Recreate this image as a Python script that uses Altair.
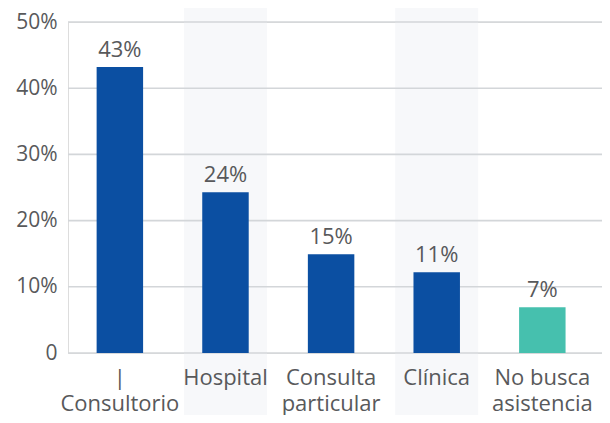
import altair as alt
import pandas as pd

categories = ["|\nConsultorio", "Hospital", "Consulta\nparticular", "Clínica", "No busca\nasistencia"]
values = [43.2, 24.3, 14.9, 12.2, 6.9]
value_labels = ["43%", "24%", "15%", "11%", "7%"]
bar_colors = ["#0b4fa2", "#0b4fa2", "#0b4fa2", "#0b4fa2", "#46c0ae"]
band_categories = ["Hospital", "Clínica"]
ticks = [0, 10, 20, 30, 40, 50]

W, H = 534, 331
FONT = "Open Sans"
TXT = "#58595b"

df = pd.DataFrame({"cat": categories, "val": values, "lab": value_labels, "col": bar_colors})
bands = pd.DataFrame({"cat": band_categories})
grid = pd.DataFrame({"t": ticks})

xscale = alt.Scale(domain=categories, paddingInner=0.56, paddingOuter=0.308, align=0.44, round=False)
yscale = alt.Scale(domain=[0, 50], nice=False)

xaxis = alt.Axis(
    title=None, domain=False, ticks=False, labelAngle=0, zindex=1,
    labelExpr="split(datum.label, '\\n')", labelFont=FONT, labelFontSize=22,
    labelColor=TXT, labelPadding=14, labelLineHeight=26, labelBaseline="top",
)
yaxis = alt.Axis(
    title=None, domain=False, ticks=False, grid=False, values=ticks,
    labelExpr="datum.value == 0 ? '0' : datum.value + '%'",
    labelFont=FONT, labelFontSize=21, labelColor=TXT, labelPadding=11,
)

band_layer = alt.Chart(bands).mark_bar(width=83, color="#f7f8fa").encode(
    x=alt.X("cat:N", scale=xscale, axis=xaxis, sort=categories),
    y=alt.value(-14),
    y2=alt.value(H + 62),
)

grid_layer = alt.Chart(grid).mark_rule(color="#d3d6d9", strokeWidth=1.6).encode(
    y=alt.Y("t:Q", scale=yscale, axis=yaxis),
    x=alt.value(0),
    x2=alt.value(W),
)

bars = alt.Chart(df).mark_bar().encode(
    x=alt.X("cat:N", scale=xscale, sort=categories),
    y=alt.Y("val:Q", scale=yscale),
    color=alt.Color("col:N", scale=None),
)

text = alt.Chart(df).mark_text(
    font=FONT, fontSize=22, color=TXT, baseline="bottom", dy=-5
).encode(
    x=alt.X("cat:N", scale=xscale, sort=categories),
    y=alt.Y("val:Q", scale=yscale),
    text="lab:N",
)

chart = alt.layer(band_layer, grid_layer, bars, text).properties(
    width=W, height=H,
    autosize=alt.AutoSizeParams(type="none"),
    padding={"left": 60, "top": 14, "right": 0, "bottom": 62},
).configure_view(stroke=None).configure(background="white")

chart.save("out.html", embed_options={"renderer": "svg", "actions": False})
